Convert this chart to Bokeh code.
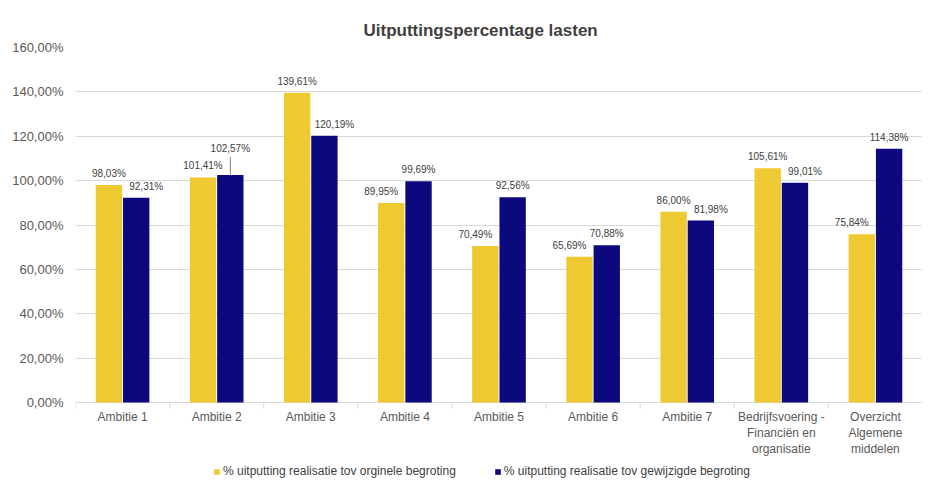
from bokeh.plotting import figure
from bokeh.models import FixedTicker, Legend, LegendItem, ColumnDataSource, Range1d
from bokeh.embed import file_html
from bokeh.resources import INLINE
from bokeh.core.properties import value

# ---- data ----
categories = ["Ambitie 1", "Ambitie 2", "Ambitie 3", "Ambitie 4", "Ambitie 5",
              "Ambitie 6", "Ambitie 7", "Bedrijfsvoering -\nFinanciën en\norganisatie",
              "Overzicht\nAlgemene\nmiddelen"]
orig = [98.03, 101.41, 139.61, 89.95, 70.49, 65.69, 86.00, 105.61, 75.84]
gewijzigd = [92.31, 102.57, 120.19, 99.69, 92.56, 70.88, 81.98, 99.01, 114.38]
series_names = ["% uitputting realisatie tov orginele begroting",
                "% uitputting realisatie tov gewijzigde begroting"]
y_ticks = [0, 20, 40, 60, 80, 100, 120, 140, 160]
y_tick_labels = ["0,00%", "20,00%", "40,00%", "60,00%", "80,00%",
                 "100,00%", "120,00%", "140,00%", "160,00%"]
title_text = "Uitputtingspercentage lasten"

YELLOW = "#EEC932"
NAVY = "#0C087E"
FONT = "Liberation Sans"
GRID = "#d9d9d9"

W, H = 922, 479
TOP, LEFT = 47, 75
AXIS_Y = 402                      # pixel row of the 0 line
px_per_unit = (AXIS_Y - TOP) / (y_ticks[-1] - y_ticks[0])
y_low = -(H - AXIS_Y) / px_per_unit   # room below the axis for labels and legend

p = figure(width=W, height=H, output_backend="svg", toolbar_location=None,
           x_range=Range1d(-0.5, len(categories) - 0.5),
           y_range=Range1d(y_low, y_ticks[-1]),
           min_border_top=TOP, min_border_bottom=0,
           min_border_left=LEFT, min_border_right=0,
           title=title_text)
p.outline_line_color = None
p.background_fill_color = "white"
p.border_fill_color = "white"

p.title.align = "left"
p.title.text_font = FONT
p.title.text_font_size = "17px"
p.title.text_font_style = "bold"
p.title.text_color = "#404040"
p.title.offset = 288
p.title.standoff = 16

xs = list(range(len(categories)))
bw = 0.28
off = 0.145
x_o = [x - off for x in xs]
x_g = [x + off for x in xs]

r1 = p.vbar(x=x_o, top=orig, width=bw, fill_color=YELLOW, line_color=None)
r2 = p.vbar(x=x_g, top=gewijzigd, width=bw, fill_color=NAVY, line_color=None)

def fmt(v):
    return f"{v:.2f}".replace(".", ",") + "%"

# label placement: shorter bar's label nudged outward; near-equal -> taller label raised with leader
lx, ly, lt, lxo, lyo = [], [], [], [], []
seg_x, seg_y0, seg_y1 = [], [], []
for i in xs:
    a, b = orig[i], gewijzigd[i]
    near = abs(a - b) < 2
    lx.append(x_o[i]); ly.append(a); lt.append(fmt(a))
    lxo.append(-10 if (a < b and not near) else 0)
    lyo.append(-6 if not (near and a > b) else -22)
    lx.append(x_g[i]); ly.append(b); lt.append(fmt(b))
    lxo.append(10 if (b < a and not near) else 0)
    if near and b > a:
        lyo.append(-21)
        seg_x.append(x_g[i]); seg_y0.append(b); seg_y1.append(b + 18 / px_per_unit)
    else:
        lyo.append(-6)

src = ColumnDataSource(dict(x=lx, y=ly, t=lt, xo=lxo, yo=lyo))
p.text(x="x", y="y", text="t", x_offset="xo", y_offset="yo", source=src,
       text_font=value(FONT), text_font_size="10px", text_color="#404040",
       text_align="center", text_baseline="bottom")
if seg_x:
    p.segment(x0=seg_x, y0=seg_y0, x1=seg_x, y1=seg_y1, line_color="#808080", line_width=1)

# category axis (drawn at the 0 line, with tick marks between categories)
p.xaxis.visible = False
bounds = [x - 0.5 for x in xs] + [xs[-1] + 0.5]
p.segment(x0=bounds, y0=[0] * len(bounds), x1=bounds,
          y1=[-6 / px_per_unit] * len(bounds), line_color=GRID, line_width=1)
p.text(x=xs, y=[0] * len(xs), text=categories, y_offset=7,
       text_font=value(FONT), text_font_size="12px", text_color="#595959",
       text_align="center", text_baseline="top", text_line_height=1.15)

p.yaxis.ticker = FixedTicker(ticks=y_ticks)
p.yaxis.major_label_overrides = {t: l for t, l in zip(y_ticks, y_tick_labels)}
p.yaxis.axis_line_color = None
p.yaxis.major_tick_line_color = None
p.yaxis.major_tick_out = 0
p.yaxis.minor_tick_line_color = None
p.yaxis.major_label_text_font = FONT
p.yaxis.major_label_text_font_size = "13px"
p.yaxis.major_label_text_color = "#595959"
p.yaxis.major_label_standoff = 12

p.xgrid.grid_line_color = None
p.ygrid.grid_line_color = GRID

legend = Legend(items=[LegendItem(label=series_names[0], renderers=[r1]),
                       LegendItem(label=series_names[1], renderers=[r2])],
                location=(138, 1), orientation="horizontal")
legend.background_fill_alpha = 0
legend.border_line_color = None
legend.padding = 0
legend.margin = 0
legend.spacing = 38
legend.glyph_width = 7
legend.glyph_height = 7
legend.label_standoff = 3
legend.label_text_font = FONT
legend.label_text_font_size = "12px"
legend.label_text_color = "#404040"
legend.label_height = 12
p.add_layout(legend, "center")

open("out.html", "w").write(file_html(p, INLINE))
